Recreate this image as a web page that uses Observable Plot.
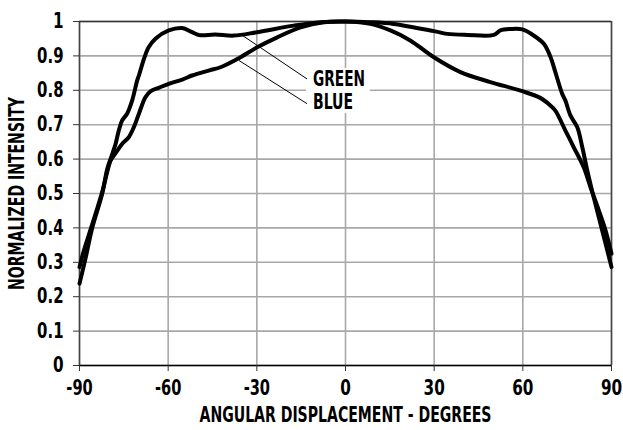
<!DOCTYPE html>
<html>
<head>
<meta charset="utf-8">
<script src="https://cdn.jsdelivr.net/npm/d3@7"></script>
<script src="https://cdn.jsdelivr.net/npm/@observablehq/plot@0.6"></script>
<style>
  html, body { margin: 0; padding: 0; background: #fff; }
</style>
</head>
<body>
<div id="chart"></div>
<script>
// ---- data ----
const greenAngle = [-90, -88, -85.7, -82.3, -80.6, -78.9, -77.8, -76.7, -75.6, -73.9, -72.2, -70.5, -69.9, -68.2, -66.6, -64.3, -59.8, -55.3, -51.9, -49.6, -44, -37.8, -29.9, -17.5, -8.5, 0, 8.4, 16.3, 29.9, 34.4, 41.2, 50.2, 52.4, 55.8, 59.8, 63.7, 67.1, 69.3, 71, 73.3, 74.4, 76.1, 78.4, 80.1, 81.8, 83.4, 85.7, 88, 90];
const greenIntensity = [0.238, 0.31, 0.40, 0.50, 0.572, 0.615, 0.644, 0.683, 0.712, 0.732, 0.770, 0.828, 0.843, 0.891, 0.925, 0.950, 0.974, 0.981, 0.969, 0.961, 0.962, 0.959, 0.969, 0.988, 0.998, 1.0, 0.998, 0.993, 0.972, 0.964, 0.961, 0.961, 0.974, 0.978, 0.977, 0.959, 0.935, 0.898, 0.853, 0.790, 0.770, 0.727, 0.693, 0.635, 0.567, 0.509, 0.431, 0.354, 0.286];

const blueAngle = [-90, -88.5, -85.7, -82.3, -79.5, -78.4, -77.2, -75.6, -73.3, -71.6, -69.9, -67.7, -66, -63, -59.8, -55, -51.9, -46, -42.3, -36.6, -29.9, -23.1, -15.2, -7.4, 0, 8.4, 15.2, 21.9, 29.9, 38.9, 49, 59.2, 65.9, 69.3, 71, 74.4, 77.2, 80.6, 82.9, 85.7, 88, 90];
const blueIntensity = [0.286, 0.335, 0.41, 0.505, 0.595, 0.610, 0.625, 0.644, 0.664, 0.693, 0.732, 0.780, 0.797, 0.808, 0.819, 0.832, 0.843, 0.858, 0.867, 0.891, 0.925, 0.954, 0.983, 0.998, 1.0, 0.993, 0.974, 0.945, 0.896, 0.853, 0.824, 0.799, 0.778, 0.756, 0.741, 0.683, 0.635, 0.576, 0.518, 0.451, 0.392, 0.325];

const xTicks = [-90, -60, -30, 0, 30, 60, 90];
const xTickLabels = ["-90", "-60", "-30", "0", "30", "60", "90"];
const yTicks = [0, 0.1, 0.2, 0.3, 0.4, 0.5, 0.6, 0.7, 0.8, 0.9, 1];
const yTickLabels = ["0", "0.1", "0.2", "0.3", "0.4", "0.5", "0.6", "0.7", "0.8", "0.9", "1"];

const seriesNames = ["GREEN", "BLUE"];
const labelAngle = [-11, -11];
const labelIntensity = [0.831, 0.765];
const leaderFromAngle = [-35.5, -36.1];
const leaderFromIntensity = [0.963, 0.887];
const leaderToAngle = [-13, -13];
const leaderToIntensity = [0.833, 0.761];
const labelBoxAngle = [-13.2, 8.4];
const labelBoxIntensity = [0.733, 0.863];

const xTitle = "ANGULAR DISPLACEMENT - DEGREES";
const yTitle = "NORMALIZED INTENSITY";

// ---- tables ----
const green = greenAngle.map((a, i) => ({angle: a, v: greenIntensity[i]}));
const blue = blueAngle.map((a, i) => ({angle: a, v: blueIntensity[i]}));
const leaders = seriesNames.map((n, i) => ({x1: leaderFromAngle[i], y1: leaderFromIntensity[i], x2: leaderToAngle[i], y2: leaderToIntensity[i]}));
const labels = seriesNames.map((n, i) => ({name: n, x: labelAngle[i], y: labelIntensity[i]}));
const box = [{x1: labelBoxAngle[0], x2: labelBoxAngle[1], y1: labelBoxIntensity[0], y2: labelBoxIntensity[1]}];

const FONT = '"Liberation Sans Narrow", "DejaVu Sans Condensed", "Roboto", sans-serif';

const chart = Plot.plot({
  width: 623,
  height: 430,
  marginLeft: 79,
  marginRight: 12,
  marginTop: 21,
  marginBottom: 65,
  style: {fontFamily: FONT, fontWeight: "bold", fontSize: "21px", background: "#fff", color: "#000"},
  x: {domain: [xTicks[0], xTicks[xTicks.length - 1]]},
  y: {domain: [yTicks[0], yTicks[yTicks.length - 1]]},
  marks: [
    Plot.gridY(yTicks, {stroke: "#a8a8a8", strokeOpacity: 1, strokeWidth: 1.6}),
    Plot.gridX(xTicks, {stroke: "#a8a8a8", strokeOpacity: 1, strokeWidth: 1.6}),
    Plot.rect(box, {x1: "x1", x2: "x2", y1: "y1", y2: "y2", fill: "#fff"}),
    Plot.ruleX([xTicks[0], xTicks[xTicks.length - 1]], {stroke: "#444", strokeWidth: 1.5}),
    Plot.ruleY([yTicks[yTicks.length - 1]], {stroke: "#333", strokeWidth: 1.5}),
    Plot.ruleY([yTicks[0]], {stroke: "#000", strokeWidth: 1.6}),
    Plot.line(blue, {x: "angle", y: "v", stroke: "#000", strokeWidth: 4, curve: "catmull-rom"}),
    Plot.line(green, {x: "angle", y: "v", stroke: "#000", strokeWidth: 4, curve: "catmull-rom"}),
    Plot.link(leaders, {x1: "x1", y1: "y1", x2: "x2", y2: "y2", stroke: "#000", strokeWidth: 1}),
    Plot.text(labels, {x: "x", y: "y", text: "name", textAnchor: "start", lineAnchor: "middle", fill: "#000", fontSize: 21}),
    Plot.axisX(xTicks, {tickSize: 6, tickPadding: 9, tickFormat: d => xTickLabels[xTicks.indexOf(d)], label: null, stroke: "#333"}),
    Plot.axisY(yTicks, {tickSize: 6, tickPadding: 10, tickFormat: d => yTickLabels[yTicks.indexOf(d)], label: null, stroke: "#333"}),
    Plot.text([xTitle], {frameAnchor: "bottom", dy: 49.5, lineAnchor: "middle", fill: "#000", fontSize: 21}),
    Plot.text([yTitle], {frameAnchor: "left", rotate: -90, dx: -62.5, dy: 96.5, textAnchor: "start", lineAnchor: "middle", fill: "#000", fontSize: 21})
  ]
});

// fit the condensed-bold lettering of the reference
const fit = {};
fit[xTitle] = 292;
fit[yTitle] = 193;
fit[seriesNames[0]] = 52;
fit[seriesNames[1]] = 40;
const tickSet = new Set([...xTickLabels, ...yTickLabels]);
const advance = ch => (/[0-9]/.test(ch) ? 10.6 : 5.2);
d3.select(chart).selectAll("text").each(function () {
  const t = this.textContent;
  let len = fit[t];
  if (!len && tickSet.has(t)) len = Array.from(t).reduce((s, ch) => s + advance(ch), 0);
  if (len) {
    this.setAttribute("textLength", len);
    this.setAttribute("lengthAdjust", "spacingAndGlyphs");
  }
});

document.getElementById("chart").appendChild(chart);
</script>
</body>
</html>
